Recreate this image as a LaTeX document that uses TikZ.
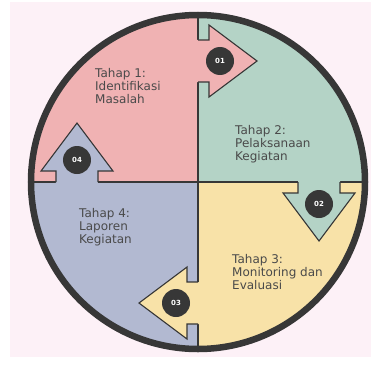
\documentclass[tikz,border=0pt]{standalone}
\usepackage{fontspec}
\setmainfont{DejaVu Sans}
\usepackage{xcolor}
\usepackage{tikz}
\usetikzlibrary{
    positioning
}
\definecolor{bgpink}{HTML}{FDF1F7}
\definecolor{stageone}{HTML}{F0B2B3}
\definecolor{stagetwo}{HTML}{B4D3C6}
\definecolor{stagethree}{HTML}{F8E2A8}
\definecolor{stagefour}{HTML}{B2B9D1}
\definecolor{darkring}{HTML}{373737}
\definecolor{textgray}{HTML}{4A4A4A}
\tikzset{
    stagetext/.style={
        anchor=north west,
        align=left,
        inner sep=0pt,
        text=textgray,
        font=\fontsize{12}{13}\selectfont
    },
    badge/.style={
        circle,
        fill=darkring,
        text=white,
        minimum size=28pt,
        inner sep=0pt,
        font=\bfseries\fontsize{7}{7}\selectfont
    },
    divider/.style={
        draw=darkring,
        line width=1.1pt
    },
    arrowline/.style={
        draw=darkring,
        line width=1.1pt,
        line join=miter
    },
    ring/.style={
        draw=darkring,
        line width=6.5pt
    }
}
\begin{document}
\begin{tikzpicture}[x=1pt, y=1pt]
\useasboundingbox (-198,-185) rectangle (173,182);
\fill[bgpink] (-188,180) rectangle (173,-175);

\foreach \col [count=\i] in {stageone, stagetwo, stagethree, stagefour}
    \fill[\col] (0,0) -- ({180-90*(\i-1)}:167) arc ({180-90*(\i-1)}:{90-90*(\i-1)}:167) -- cycle;

\draw[divider] (0,167) -- (0,-167);
\draw[divider] (-167,0) -- (167,0);

\foreach \col/\num [count=\i] in {stageone/01, stagetwo/02, stagethree/03, stagefour/04} {
    \begin{scope}[rotate={-90*(\i-1)}]
        \fill[\col] (-1,100) -- (11,100) -- (11,85) -- (59,121) -- (11,157) -- (11,142) -- (-1,142) -- cycle;
        \draw[arrowline] (0,100) -- (11,100) -- (11,85) -- (59,121) -- (11,157) -- (11,142) -- (0,142);
        \node[badge] (badge\num) at (22,121) {\num};
    \end{scope}
}

\draw[ring] (0,0) circle (167);

\node[stagetext] (tahapone) at (-103,114) {Tahap 1:\\Identifikasi\\Masalah};
\node[stagetext] (tahaptwo) at (37,57) {Tahap 2:\\Pelaksanaan\\Kegiatan};
\node[stagetext] (tahapthree) at (34,-72) {Tahap 3:\\Monitoring dan\\Evaluasi};
\node[stagetext] (tahapfour) at (-119,-26) {Tahap 4:\\Laporen\\Kegiatan};
\end{tikzpicture}
\end{document}
